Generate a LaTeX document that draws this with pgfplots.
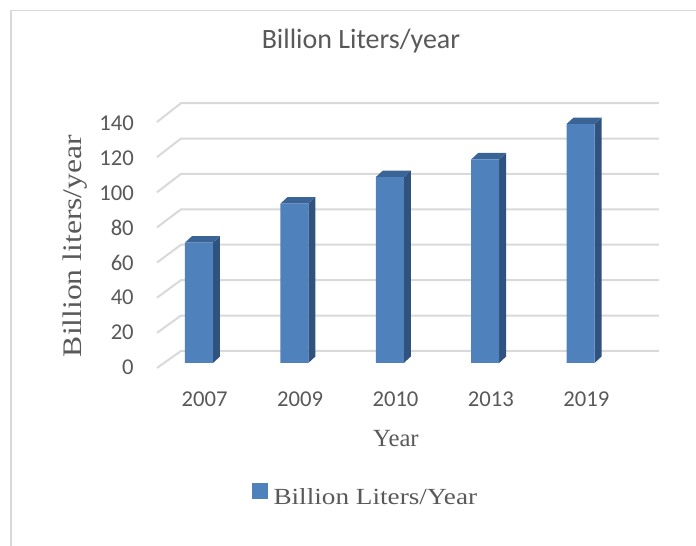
\documentclass[border=0pt]{standalone}
\usepackage{pgfplots}
\pgfplotsset{compat=1.18}
\usepackage{fontspec}
\setmainfont{Liberation Serif}[FakeStretch=1.18]
\newfontfamily\plainserif{Liberation Serif}
\newfontfamily\calibri{Carlito}
\definecolor{barfront}{HTML}{4F81BD}
\definecolor{barside}{HTML}{30527F}
\definecolor{bartop}{HTML}{3B6496}
\definecolor{gridc}{HTML}{D9D9D9}
\definecolor{txt}{HTML}{595959}
\begin{document}
\begin{tikzpicture}
\useasboundingbox (0pt,0pt) rectangle (522pt,-409.5pt);
\draw[gridc, line width=1.2pt] (8.25pt,-409.5pt) -- (8.25pt,-7.9pt) -- (522pt,-7.9pt);
\begin{axis}[
  at={(109.875pt,-280.2pt)}, anchor=south west,
  scale only axis, x=71.55pt, y=1.3275pt,
  xmin=-0.55, xmax=4.9, ymin=-6, ymax=150,
  clip=false,
  axis line style={draw=none}, major tick length=0pt,
  /pgf/number format/assume math mode=true,
  ytick={-2.26,17.43,37.12,56.81,76.50,96.19,115.88,135.57},
  yticklabels={0,20,40,60,80,100,120,140},
  xtick={0.06,1.06,2.06,3.06,4.06},
  xticklabels={2007,2009,2010,2013,2019},
  yticklabel style={font=\calibri\fontsize{17}{17}\selectfont, text=txt, anchor=east, inner sep=0pt, xshift=-9.375pt},
  xticklabel style={font=\calibri\fontsize{17}{17}\selectfont, text=txt, anchor=base, inner sep=0pt, yshift=-24.7pt},
  title={Billion Liters/year},
  title style={at={(axis description cs:0.4125,1.1478)}, anchor=base, yshift=0pt, inner sep=0pt, font=\calibri\fontsize{21}{21}\selectfont, text=txt},
  xlabel={Year},
  xlabel style={at={(axis description cs:0.4798,-0.2622)}, anchor=base, inner sep=0pt, font=\plainserif\fontsize{18.5}{18.5}\selectfont, text=txt},
  ylabel={Billion liters/year},
  ylabel style={at={(axis description cs:-0.1246,0.4622)}, anchor=base, inner sep=0pt, font=\fontsize{20.1}{20}\selectfont, text=txt},
  legend style={draw=none, fill=none, at={(axis description cs:0.2029,-0.4386)}, anchor=west, inner sep=0pt, outer sep=0pt, font=\fontsize{17.3}{17.3}\selectfont, text=txt, nodes={inner sep=0pt}, /tikz/column sep=4.5pt},
  legend cell align=left,
]
% gridlines (floor diagonal + back wall)
\addplot[gridc, line width=1.5pt, forget plot] coordinates {(-0.4403,-2.82) (-0.1887,6.8) (4.822,6.8)};
\addplot[gridc, line width=1.5pt, forget plot] coordinates {(-0.4403,17.03) (-0.1887,26.8) (4.822,26.8)};
\addplot[gridc, line width=1.5pt, forget plot] coordinates {(-0.4403,36.88) (-0.1887,46.8) (4.822,46.8)};
\addplot[gridc, line width=1.5pt, forget plot] coordinates {(-0.4403,56.74) (-0.1887,66.8) (4.822,66.8)};
\addplot[gridc, line width=1.5pt, forget plot] coordinates {(-0.4403,76.59) (-0.1887,86.8) (4.822,86.8)};
\addplot[gridc, line width=1.5pt, forget plot] coordinates {(-0.4403,96.45) (-0.1887,106.8) (4.822,106.8)};
\addplot[gridc, line width=1.5pt, forget plot] coordinates {(-0.4403,116.30) (-0.1887,126.8) (4.822,126.8)};
\addplot[gridc, line width=1.5pt, forget plot] coordinates {(-0.4403,136.15) (-0.1887,146.8) (4.822,146.8)};
% side faces
\addplot[fill=barside, draw=none, forget plot] coordinates {(0.1468,0) (0.2202,3.67) (0.2202,71.67) (0.1468,68)} -- cycle;
\addplot[fill=barside, draw=none, forget plot] coordinates {(1.1468,0) (1.2202,3.67) (1.2202,93.67) (1.1468,90)} -- cycle;
\addplot[fill=barside, draw=none, forget plot] coordinates {(2.1468,0) (2.2202,3.67) (2.2202,108.67) (2.1468,105)} -- cycle;
\addplot[fill=barside, draw=none, forget plot] coordinates {(3.1468,0) (3.2202,3.67) (3.2202,118.67) (3.1468,115)} -- cycle;
\addplot[fill=barside, draw=none, forget plot] coordinates {(4.1468,0) (4.2202,3.67) (4.2202,138.67) (4.1468,135)} -- cycle;
% top faces
\addplot[fill=bartop, draw=none, forget plot] coordinates {(-0.1468,68) (-0.0734,71.67) (0.2202,71.67) (0.1468,68)} -- cycle;
\addplot[fill=bartop, draw=none, forget plot] coordinates {(0.8532,90) (0.9266,93.67) (1.2202,93.67) (1.1468,90)} -- cycle;
\addplot[fill=bartop, draw=none, forget plot] coordinates {(1.8532,105) (1.9266,108.67) (2.2202,108.67) (2.1468,105)} -- cycle;
\addplot[fill=bartop, draw=none, forget plot] coordinates {(2.8532,115) (2.9266,118.67) (3.2202,118.67) (3.1468,115)} -- cycle;
\addplot[fill=bartop, draw=none, forget plot] coordinates {(3.8532,135) (3.9266,138.67) (4.2202,138.67) (4.1468,135)} -- cycle;
% front faces
\addplot[ybar, bar width=0.2936, bar shift=0pt, fill=barfront, draw=none, forget plot] coordinates {(0,68) (1,90) (2,105) (3,115) (4,135)};
\addlegendimage{legend image code/.code={\fill[barfront] (0pt,0pt) rectangle (11.25pt,11.25pt);}}
\addlegendentry{Billion Liters/Year}
\end{axis}
\end{tikzpicture}
\end{document}
